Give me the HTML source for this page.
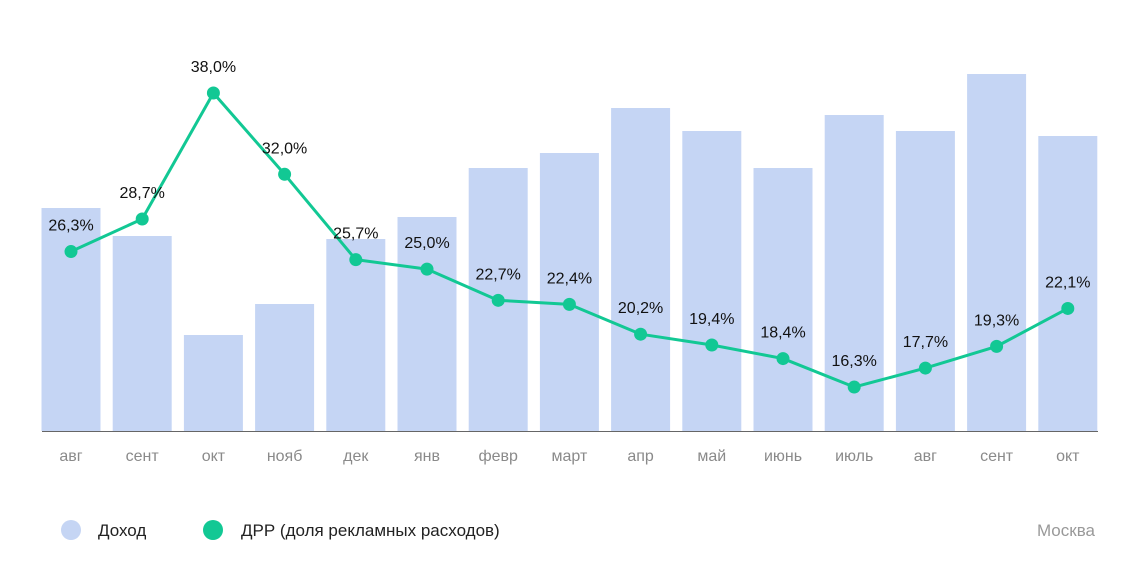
<!DOCTYPE html>
<html><head><meta charset="utf-8"><style>
html,body{margin:0;padding:0;background:#fff;}
svg{display:block;font-family:"Liberation Sans","DejaVu Sans",sans-serif;}
</style></head><body>
<svg id="chart" width="1140" height="588" viewBox="0 0 1140 588">
<g id="bars"></g>
<line x1="42" x2="1098" y1="431.5" y2="431.5" stroke="#666" stroke-width="1"/>
<g id="xlabels"></g>
<g id="line"></g>
<g>
<circle cx="71" cy="530" r="10" fill="#c5d5f4"/>
<text x="98" y="536" font-size="17" fill="#222">Доход</text>
<circle cx="213" cy="530" r="10" fill="#12c894"/>
<text x="241" y="536" font-size="17" fill="#222">ДРР (доля рекламных расходов)</text>
</g>
<text x="1095" y="536" font-size="17" fill="#999" text-anchor="end">Москва</text>
</svg>
<script>
const categories = ["авг","сент","окт","нояб","дек","янв","февр","март","апр","май","июнь","июль","авг","сент","окт"];
const revenue = [223,195,96,127,192,214,263,278,323,300,263,316,300,357,295];
const drr = [26.3,28.7,38.0,32.0,25.7,25.0,22.7,22.4,20.2,19.4,18.4,16.3,17.7,19.3,22.1];
const NS="http://www.w3.org/2000/svg";
const x = i => 71 + i*71.2;
const yBar = v => 431 - v;
const yLine = v => 93 + (38 - v)*13.55;
function mk(tag, attrs, parent){const e=document.createElementNS(NS,tag);for(const k in attrs)e.setAttribute(k,attrs[k]);parent.appendChild(e);return e;}
const gb=document.getElementById('bars'),gx=document.getElementById('xlabels'),gl=document.getElementById('line');
categories.forEach((c,i)=>{
  const r=mk('rect',{x:x(i)-29.5,y:yBar(revenue[i]),width:59,height:431-yBar(revenue[i]),fill:'#c5d5f4'},gb);
  
  
  const t=mk('text',{x:x(i),y:461,'font-size':16,fill:'#8a8a8a','text-anchor':'middle'},gx);
  t.textContent=c;
  
  
});
const pts=drr.map((v,i)=>x(i)+','+yLine(v)).join(' ');
const pl=mk('polyline',{points:pts,fill:'none',stroke:'#12c894','stroke-width':3,'stroke-linejoin':'round'},gl);


drr.forEach((v,i)=>{
  const c=mk('circle',{cx:x(i),cy:yLine(v),r:6.5,fill:'#12c894'},gl);
  
  
  const t=mk('text',{x:x(i),y:yLine(v)-21,'font-size':16,fill:'#111','text-anchor':'middle'},gl);
  t.textContent=v.toFixed(1).replace('.',',')+'%';
  
  
});
</script>
</body></html>
